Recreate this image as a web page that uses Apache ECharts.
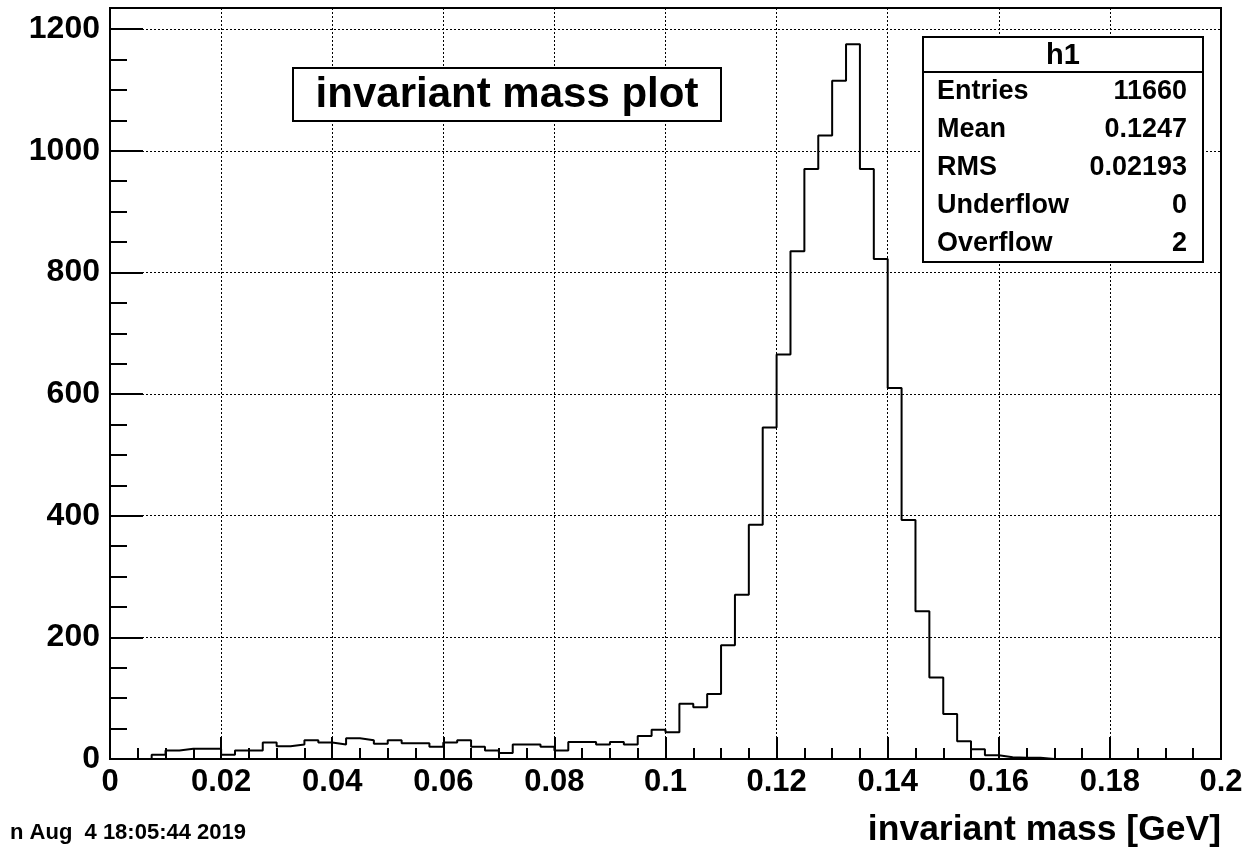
<!DOCTYPE html>
<html>
<head>
<meta charset="utf-8">
<script src="https://cdn.jsdelivr.net/npm/echarts@6/dist/echarts.min.js"></script>
<style>
html,body{margin:0;padding:0;background:#fff;}
#chart{width:1249px;height:850px;}
</style>
</head>
<body>
<div id="chart"></div>
<script>
// ---- data ----
const binLow = 0.0;          // lower edge of histogram range
const binWidth = 0.0025;     // 80 bins over [0, 0.2]
const counts = [
  0, 0, 0, 7, 14, 17, 17, 17, 7, 14,
  14, 27, 21, 24, 31, 27, 24, 34, 31, 25,
  31, 26, 26, 20, 27, 31, 20, 14, 10, 24,
  24, 20, 14, 28, 28, 24, 28, 24, 38, 48,
  44, 91, 85, 107, 187, 270, 385, 545, 665, 835,
  970, 1025, 1115, 1175, 970, 822, 610, 393, 243, 134,
  74, 29, 16, 6, 3, 2, 2, 0, 0, 0,
  0, 0, 0, 0, 0, 0, 0, 0, 0, 0
];
const xTickLabels = ['0','0.02','0.04','0.06','0.08','0.1','0.12','0.14','0.16','0.18','0.2'];
const yTickLabels = ['0','200','400','600','800','1000','1200'];
const titleText = 'invariant mass plot';
const xTitle = 'invariant mass [GeV]';
const dateText = 'n Aug  4 18:05:44 2019';
const statsName = 'h1';
const statLabels = ['Entries', 'Mean', 'RMS', 'Underflow', 'Overflow'];
const statValues = ['11660', '0.1247', '0.02193', '0', '2'];

// ---- build step data ----
const stepData = counts.map((c, i) => [+(binLow + i * binWidth).toFixed(4), c]);
stepData.push([+(binLow + counts.length * binWidth).toFixed(4), 0]);

const FONT = '"Liberation Sans", Arial, Helvetica, sans-serif';
const chart = echarts.init(document.getElementById('chart'), null, {renderer: 'canvas'});

const statsGraphics = [];
const bx = 923, by = 37, bw = 280, bh = 225, hh = 35;
statsGraphics.push({type: 'rect', shape: {x: bx, y: by, width: bw, height: bh},
  style: {fill: '#fff', stroke: '#000', lineWidth: 2}, z: 100});
statsGraphics.push({type: 'line', shape: {x1: bx, y1: by + hh, x2: bx + bw, y2: by + hh},
  style: {stroke: '#000', lineWidth: 2}, z: 101});
statsGraphics.push({type: 'text', x: bx + bw / 2, y: by + hh / 2 + 1, z: 101,
  style: {text: statsName, font: 'bold 29px ' + FONT, fill: '#000', align: 'center', verticalAlign: 'middle'}});
const rowH = (bh - hh) / statLabels.length;
statLabels.forEach((lab, i) => {
  const cy = by + hh + rowH * (i + 0.5) + 1;
  statsGraphics.push({type: 'text', x: bx + 14, y: cy, z: 101,
    style: {text: lab, font: 'bold 27px ' + FONT, fill: '#000', align: 'left', verticalAlign: 'middle'}});
  statsGraphics.push({type: 'text', x: bx + bw - 16, y: cy, z: 101,
    style: {text: statValues[i], font: 'bold 27px ' + FONT, fill: '#000', align: 'right', verticalAlign: 'middle'}});
});

const option = {
  animation: false,
  backgroundColor: '#fff',
  grid: {left: 110, right: 28, top: 8, bottom: 91, show: true, borderColor: '#000', borderWidth: 2,
         backgroundColor: 'transparent'},
  xAxis: {
    type: 'value', min: 0, max: 0.2, interval: 0.02,
    axisLine: {show: true, onZero: false, lineStyle: {color: '#000', width: 2}},
    axisTick: {show: true, inside: true, length: 22, lineStyle: {color: '#000', width: 2}},
    minorTick: {show: true, splitNumber: 4, length: 11, lineStyle: {color: '#000', width: 2}},
    splitLine: {show: true, lineStyle: {color: '#000', width: 1, type: [2, 2]}},
    axisLabel: {
      color: '#000', fontSize: 31, fontWeight: 'bold', fontFamily: FONT, margin: 8,
      formatter: v => { const k = Math.round(v / 0.02); return xTickLabels[k] !== undefined ? xTickLabels[k] : ''; }
    }
  },
  yAxis: {
    type: 'value', min: 0, max: 1234.8, interval: 200,
    axisLine: {show: true, lineStyle: {color: '#000', width: 2}},
    axisTick: {show: true, inside: true, length: 33, lineStyle: {color: '#000', width: 2}},
    minorTick: {show: true, splitNumber: 4, length: 17, lineStyle: {color: '#000', width: 2}},
    splitLine: {show: true, lineStyle: {color: '#000', width: 1, type: [2, 2]}},
    axisLabel: {
      color: '#000', fontSize: 32, fontWeight: 'bold', fontFamily: FONT, margin: 10, showMaxLabel: false,
      formatter: v => { if (Math.abs(v / 200 - Math.round(v / 200)) > 1e-6) return ''; const k = Math.round(v / 200); return yTickLabels[k] !== undefined ? yTickLabels[k] : ''; }
    }
  },
  series: [{
    type: 'line', step: 'end', data: stepData, symbol: 'none', silent: true,
    lineStyle: {color: '#000', width: 2}, z: 5
  }],
  graphic: [
    {type: 'rect', shape: {x: 293, y: 68, width: 428, height: 53},
     style: {fill: '#fff', stroke: '#000', lineWidth: 2}, z: 100},
    {type: 'text', x: 507, y: 95, z: 101,
     style: {text: titleText, font: 'bold 42px ' + FONT, fill: '#000', align: 'center', verticalAlign: 'middle'}},
    {type: 'text', x: 1221, y: 830, z: 101,
     style: {text: xTitle, font: 'bold 35.5px ' + FONT, fill: '#000', align: 'right', verticalAlign: 'middle'}},
    {type: 'text', x: 10, y: 833, z: 101,
     style: {text: dateText, font: 'bold 22px ' + FONT, fill: '#000', align: 'left', verticalAlign: 'middle'}}
  ].concat(statsGraphics)
};
chart.setOption(option);
</script>
</body>
</html>
